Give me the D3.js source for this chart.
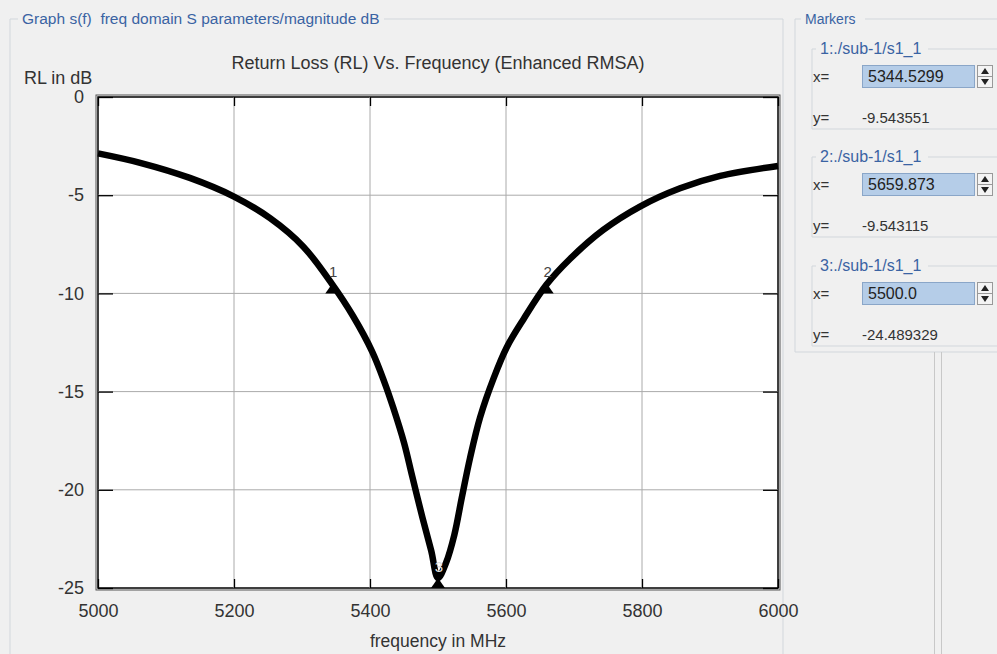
<!DOCTYPE html>
<html>
<head>
<meta charset="utf-8">
<script src="https://cdn.jsdelivr.net/npm/d3@7"></script>
<style>
  body { margin: 0; background: #f0f0f0; }
  svg { display: block; }
</style>
</head>
<body>
<svg id="chart" width="997" height="654"></svg>
<script>
// curve: frequency in MHz, return loss in dB
const freqs = [5000, 5062, 5135, 5200, 5253, 5302, 5344.5, 5375, 5403, 5421, 5434, 5450,
  5462, 5477, 5490, 5500, 5512, 5524, 5535, 5547, 5562, 5582, 5601, 5626, 5659.9,
  5694, 5743, 5797, 5856, 5915, 6000]
const rlValues = [-2.87, -3.35, -4.12, -5.07, -6.17, -7.62, -9.54, -11.15, -12.95, -14.5, -15.8, -17.6,
  -19.3, -21.4, -23.1, -24.49, -23.7, -22.3, -20.4, -18.4, -16.3, -14.3, -12.75, -11.3, -9.54,
  -8.25, -6.77, -5.58, -4.65, -4.02, -3.51]

const xTicks = [5000, 5200, 5400, 5600, 5800, 6000]
const yTicks = [0, -5, -10, -15, -20, -25]

const markerIds = [1, 2, 3]
const markerX = [5344.5299, 5659.873, 5500.0]
const markerY = [-9.543551, -9.543115, -24.489329]
const markerXText = ['5344.5299', '5659.873', '5500.0']
const markerYText = ['-9.543551', '-9.543115', '-24.489329']

const svg = d3.select('#chart')
const blue = '#3a63a3'
const font = 'Liberation Sans, Arial, sans-serif'

const x = d3.scaleLinear().domain([5000, 6000]).range([98, 778])
const y = d3.scaleLinear().domain([-25, 0]).range([588, 97])

// etched group box with a title cut into its top edge
function groupBox (g, x0, y0, x1, y1, title, titleX, titleW, size) {
  g.append('path')
    .attr('d', `M${titleX - 4},${y0}H${x0}V${y1}H${x1}V${y0}H${titleX + titleW + 4}`)
    .attr('fill', 'none').attr('stroke', '#d2d7dc')
  g.append('text').attr('x', titleX).attr('y', y0 + 5)
    .attr('font-family', font).attr('font-size', size).attr('fill', blue)
    .style('white-space', 'pre')
    .text(title)
}

const frame = svg.append('g')
groupBox(frame, 10, 19, 783, 660, 'Graph s(f)\u00a0 freq domain S parameters/magnitude dB', 22, 358, 15.5)

// plot area
svg.append('rect')
  .attr('x', x(5000) - 2).attr('y', y(0) - 2)
  .attr('width', x(6000) - x(5000) + 4).attr('height', y(-25) - y(0) + 4)
  .attr('fill', 'none').attr('stroke', '#555').attr('stroke-width', 1)
svg.append('rect')
  .attr('x', x(5000)).attr('y', y(0))
  .attr('width', x(6000) - x(5000)).attr('height', y(-25) - y(0))
  .attr('fill', '#fff').attr('stroke', '#000').attr('stroke-width', 1.5)

// grid
svg.append('g').selectAll('line')
  .data(xTicks.slice(1, -1)).enter().append('line')
  .attr('x1', d => x(d)).attr('x2', d => x(d))
  .attr('y1', y(0)).attr('y2', y(-25))
  .attr('stroke', '#aaa').attr('stroke-width', 1)
svg.append('g').selectAll('line')
  .data(yTicks.slice(1, -1)).enter().append('line')
  .attr('x1', x(5000)).attr('x2', x(6000))
  .attr('y1', d => y(d)).attr('y2', d => y(d))
  .attr('stroke', '#aaa').attr('stroke-width', 1)

// axes: inner ticks on all four sides
const plain = d => String(d)
const axisStyle = g => {
  g.select('.domain').remove()
  g.selectAll('.tick line').attr('stroke', '#000').attr('stroke-width', 1.3)
  g.selectAll('text').attr('font-family', font).attr('font-size', 18).attr('fill', '#333')
}
svg.append('g').attr('transform', `translate(0,${y(-25)})`)
  .call(d3.axisBottom(x).tickValues(xTicks).tickSizeInner(-9).tickPadding(16).tickFormat(plain))
  .call(axisStyle)
svg.append('g').attr('transform', `translate(0,${y(0)})`)
  .call(d3.axisTop(x).tickValues(xTicks).tickSizeInner(-9).tickFormat(''))
  .call(axisStyle)
svg.append('g').attr('transform', `translate(${x(5000)},0)`)
  .call(d3.axisLeft(y).tickValues(yTicks).tickSizeInner(-15).tickPadding(14).tickFormat(plain))
  .call(axisStyle)
svg.append('g').attr('transform', `translate(${x(6000)},0)`)
  .call(d3.axisRight(y).tickValues(yTicks).tickSizeInner(-15).tickFormat(''))
  .call(axisStyle)

// titles
svg.append('text').attr('x', 438).attr('y', 69).attr('text-anchor', 'middle')
  .attr('font-family', font).attr('font-size', 18).attr('fill', '#333')
  .text('Return Loss (RL) Vs. Frequency (Enhanced RMSA)')
svg.append('text').attr('x', 24).attr('y', 84)
  .attr('font-family', font).attr('font-size', 18).attr('fill', '#333')
  .text('RL in dB')
svg.append('text').attr('x', 438).attr('y', 647).attr('text-anchor', 'middle')
  .attr('font-family', font).attr('font-size', 17.5).attr('fill', '#333')
  .text('frequency in MHz')

// curve
const line = d3.line()
  .x((d, i) => x(freqs[i]))
  .y(d => y(d))
  .curve(d3.curveCatmullRom.alpha(0.5))
svg.append('path')
  .datum(rlValues)
  .attr('d', line)
  .attr('fill', 'none')
  .attr('stroke', '#000')
  .attr('stroke-width', 6.5)
  .attr('stroke-linejoin', 'round')

// markers on the curve
const marks = svg.append('g').selectAll('g')
  .data(markerIds).enter().append('g')
  .attr('transform', (d, i) => `translate(${x(markerX[i])},${y(markerY[i])})`)
marks.append('path')
  .attr('d', (d, i) => markerY[i] < -24 ? 'M0,0L7,10H-7Z' : 'M0,-1L7,9H-7Z')
  .attr('fill', '#000')
marks.append('text')
  .attr('x', 1).attr('y', (d, i) => markerY[i] < -24 ? -6 : -7)
  .attr('text-anchor', 'middle')
  .attr('font-family', font).attr('font-size', 15)
  .attr('fill', d => d === 3 ? '#ddd' : '#444')
  .text(d => d)

// marker panel
const panel = svg.append('g')
groupBox(panel, 795, 19, 1000, 352, 'Markers', 805, 56, 14)

const boxTop = [49, 157, 266]
markerIds.forEach((id, i) => {
  const g = panel.append('g').attr('transform', `translate(0,${boxTop[i]})`)
  groupBox(g, 812, 0, 1000, 80, `${id}:./sub-1/s1_1`, 820, 104, 16)
  g.append('text').attr('x', 813).attr('y', 33)
    .attr('font-family', font).attr('font-size', 15).attr('fill', '#333').text('x=')
  g.append('rect').attr('x', 862.5).attr('y', 16.5).attr('width', 112).attr('height', 22)
    .attr('fill', '#b5cde8').attr('stroke', '#8aa6c8')
  g.append('text').attr('x', 868).attr('y', 33)
    .attr('font-family', font).attr('font-size', 16).attr('fill', '#222').text(markerXText[i])
  // spinner
  g.append('rect').attr('x', 977.5).attr('y', 16.5).attr('width', 15).attr('height', 11)
    .attr('fill', '#f4f4f4').attr('stroke', '#999')
  g.append('rect').attr('x', 977.5).attr('y', 27.5).attr('width', 15).attr('height', 11)
    .attr('fill', '#f4f4f4').attr('stroke', '#999')
  g.append('path').attr('d', 'M985,19L989,25H981Z').attr('fill', '#222')
  g.append('path').attr('d', 'M985,36L989,30H981Z').attr('fill', '#222')
  g.append('text').attr('x', 813).attr('y', 74)
    .attr('font-family', font).attr('font-size', 15).attr('fill', '#333').text('y=')
  g.append('text').attr('x', 862).attr('y', 74)
    .attr('font-family', font).attr('font-size', 15).attr('fill', '#333').text(markerYText[i])
})

// separators at the right
svg.append('line').attr('x1', 934.5).attr('x2', 934.5).attr('y1', 352).attr('y2', 654)
  .attr('stroke', '#c8c8c8')
svg.append('line').attr('x1', 941.5).attr('x2', 941.5).attr('y1', 352).attr('y2', 654)
  .attr('stroke', '#c8c8c8')
</script>
</body>
</html>
